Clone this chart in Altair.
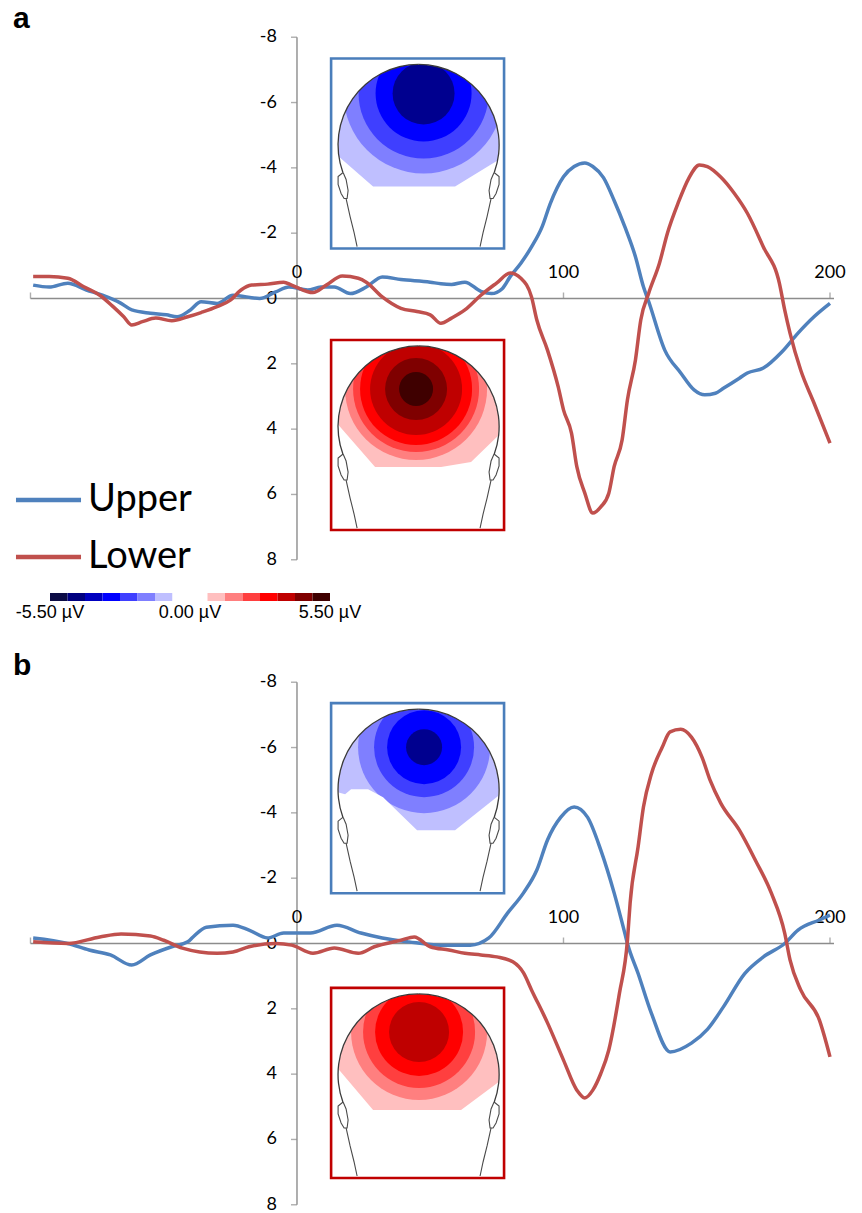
import altair as alt
import pandas as pd

# ------------------------------------------------------------------ data
SERIES = ["Upper", "Lower"]
SERIES_COLOURS = ["#4F81BD", "#C0504D"]

# panel a
A_UPPER_T = [-99, -93, -86, -79, -73, -66, -62, -55, -49, -45, -40, -36, -30, -24, -14, -8, -3, 4, 9, 14,
             20, 26, 32, 39, 50, 54, 58, 63, 69, 73, 77, 80, 84, 88, 92, 95, 100, 104, 108, 111,
             115, 119, 123, 127, 130, 132, 138, 144, 149, 153, 157, 160, 166, 169, 175, 182, 188, 194, 200]
A_UPPER_V = [-0.41, -0.35, -0.47, -0.26, -0.10, 0.15, 0.35, 0.45, 0.50, 0.56, 0.35, 0.10, 0.15, -0.10, 0.00,
             -0.20, -0.35, -0.26, -0.35, -0.35, -0.15, -0.35, -0.66, -0.58, -0.50, -0.45, -0.43, -0.50, -0.22,
             -0.15, -0.30, -0.67, -1.08, -1.58, -2.20, -2.90, -3.73, -4.04, -4.15, -4.04, -3.70, -3.00, -2.20,
             -1.28, -0.36, 0.10, 1.58, 2.28, 2.80, 2.95, 2.90, 2.75, 2.44, 2.28, 2.13, 1.63, 1.06, 0.56, 0.15]
A_LOWER_T = [-99, -93, -86, -80, -74, -69, -65, -62, -58, -53, -47, -41, -36, -30, -25, -21, -17, -11, -5, -2,
             6, 11, 17, 23, 26, 32, 39, 45, 50, 54, 58, 63, 69, 75, 80, 84, 88, 90, 94, 98,
             100, 103, 105, 108, 111, 114, 117, 119, 122, 124, 127, 129, 132, 136, 139, 143, 147, 151, 154, 159,
             164, 169, 175, 181, 183, 185, 189, 194, 200]
A_LOWER_V = [-0.67, -0.67, -0.62, -0.36, -0.10, 0.25, 0.56, 0.81, 0.71, 0.60, 0.68, 0.56, 0.43, 0.25, 0.05,
             -0.26, -0.41, -0.44, -0.50, -0.41, -0.18, -0.41, -0.69, -0.62, -0.50, -0.05, 0.30, 0.40, 0.50,
             0.76, 0.60, 0.35, -0.10, -0.48, -0.78, -0.62, -0.05, 0.66, 1.58, 2.70, 3.41, 4.12, 5.15, 5.96,
             6.57, 6.38, 5.96, 5.15, 4.33, 3.10, 1.88, 0.66, -0.17, -1.08, -2.00, -2.92, -3.68, -4.09, -4.04,
             -3.72, -3.23, -2.61, -1.58, -0.47, 0.35, 1.06, 2.19, 3.20, 4.43]

# panel b
B_UPPER_T = [-99, -86, -78, -70, -62, -55, -47, -41, -39, -34, -24, -18, -11, -5, 5, 15, 24, 32, 42, 54,
             65, 72, 79, 85, 90, 94, 99, 104, 109, 114, 119, 123, 124, 128, 133, 140, 148, 154, 160, 168,
             175, 183, 188, 196, 200]
B_UPPER_V = [-0.17, 0.00, 0.20, 0.35, 0.66, 0.35, 0.10, -0.05, -0.20, -0.50, -0.56, -0.41, -0.17, -0.32, -0.32,
             -0.56, -0.32, -0.17, -0.05, 0.05, 0.05, -0.17, -0.93, -1.55, -2.25, -3.17, -3.87, -4.18, -3.87,
             -2.86, -1.55, -0.32, 0.00, 0.92, 2.14, 3.32, 3.05, 2.63, 1.94, 0.92, 0.41, 0.00, -0.41, -0.72, -0.87]
B_LOWER_T = [-99, -86, -74, -66, -55, -50, -43, -30, -24, -18, -8, -2, 6, 14, 23, 29, 39, 44, 50, 57,
             63, 69, 75, 81, 85, 88, 94, 100, 105, 108, 111, 114, 117, 121, 124, 125, 128, 130, 133, 137,
             140, 144, 148, 152, 155, 159, 166, 172, 178, 183, 185, 189, 196, 200]
B_LOWER_V = [-0.05, 0.00, -0.20, -0.29, -0.23, -0.10, 0.14, 0.30, 0.26, 0.10, 0.00, 0.05, 0.30, 0.14, 0.30,
             0.10, -0.10, -0.20, 0.10, 0.20, 0.30, 0.35, 0.41, 0.56, 0.90, 1.42, 2.43, 3.57, 4.49, 4.73, 4.49,
             3.98, 3.26, 1.52, -0.10, -1.24, -2.96, -4.18, -5.20, -6.00, -6.48, -6.56, -6.32, -5.70, -5.00,
             -4.30, -3.47, -2.55, -1.54, -0.32, 0.50, 1.42, 2.34, 3.47]

Y_TICKS = [-8, -6, -4, -2, 0, 2, 4, 6, 8]
X_TICKS = [-100, 0, 100, 200]
X_LABELS = [0, 100, 200]

# topography colour scale (16 steps, -5.5 .. 5.5 µV)
CBAR_COLOURS = ["#0B0B45", "#00007F", "#0000BF", "#0000FF", "#3F3FFF", "#7F7FFF", "#BFBFFF", "#FFFFFF",
                "#FFFFFF", "#FFBFBF", "#FF7F7F", "#FF3F3F", "#FF0000", "#BF0000", "#7F0000", "#3F0000"]
CBAR_LIMITS = [-5.5, 5.5]
CBAR_LABEL_VALUES = [-5.5, 0.0, 5.5]

# ------------------------------------------------------------------ layout
W = 862
X_DOMAIN = [-111.44, 212.01]
PX_PER_UV = 32.66
H_A, ZERO_A = 593, 298.5
H_BAR = 8
H_B, ZERO_B = 612, 342.5


def ydom(h, z):
    return [-z / PX_PER_UV, (h - z) / PX_PER_UV]


# inset (scalp map) drawing, local coordinates in a 173 x 190 box
BOX_W, BOX_H = 173.0, 190.0
HEAD_C = (87.5, 86.5)
HEAD_R = 80.5
MASK_R = 135
EAR = [(12, 114), (7, 118), (7, 126), (10, 135), (13, 140), (16, 140), (17, 132), (15, 121), (12, 114)]
NECK = [(15, 140), (19, 158), (23, 174), (26, 188)]

INSETS = {
    "a": [
        dict(name="a_up", box=[12.8, 77.7, -7.35, -1.53], border="#4A7EBB", base="#BFBFFF",
             centre=(92.5, 35), radii=[80, 65, 48, 31],
             colours=["#7F7FFF", "#3F3FFF", "#0000FF", "#00008F"],
             cut=[(3, 94), (42, 128), (124, 128), (173, 98)]),
        dict(name="a_lo", box=[12.8, 77.7, 1.27, 7.09], border="#C00000", base="#FFBFBF",
             centre=(85, 49), radii=[71, 63, 56, 46, 31, 17],
             colours=["#FF7F7F", "#FF3F3F", "#FF0000", "#BF0000", "#7F0000", "#3F0000"],
             cut=[(3, 80), (44, 127), (110, 127), (140, 122), (173, 90)]),
    ],
    "b": [
        dict(name="b_up", box=[12.8, 77.7, -7.36, -1.54], border="#4A7EBB", base="#BFBFFF",
             centre=(93, 44), radii=[66, 50, 37, 18],
             colours=["#7F7FFF", "#3F3FFF", "#0000FF", "#00008F"],
             cut=[(3, 88), (14, 91), (20, 86), (37, 86), (52, 94), (86, 127), (124, 127), (173, 88)]),
        dict(name="b_lo", box=[12.8, 77.7, 1.36, 7.18], border="#C00000", base="#FFBFBF",
             centre=(88, 44), radii=[68, 56, 44, 30],
             colours=["#FF7F7F", "#FF3F3F", "#FF0000", "#BF0000"],
             cut=[(3, 76), (42, 122), (130, 122), (173, 90)]),
    ],
}

FONT = "Lato"
AXIS_GREY = "#8C8C8C"


def inset_frames(insets):
    discs, heads, cuts, strokes, borders = [], [], [], [], []
    for ins in insets:
        x0, x1, y0, y1 = ins["box"]

        def P(u, v):
            return x0 + u / BOX_W * (x1 - x0), y0 + v / BOX_H * (y1 - y0)

        hx, hy = P(*HEAD_C)
        heads.append(dict(x=hx, y=hy))
        discs.append(dict(k=len(discs), x=hx, y=hy, r=HEAD_R, fill=ins["base"]))
        cx, cy = P(*ins["centre"])
        for r, c in zip(ins["radii"], ins["colours"]):
            discs.append(dict(k=len(discs), x=cx, y=cy, r=r, fill=c))
        bottom = P(0, BOX_H - 1.5)[1]
        for u, v in ins["cut"]:
            x, y = P(u, v)
            cuts.append(dict(name=ins["name"], x=x, y=y, y2=bottom))
        for side in ("L", "R"):
            for pname, pts in (("ear", EAR), ("neck", NECK)):
                for i, (u, v) in enumerate(pts):
                    uu = u if side == "L" else 2 * HEAD_C[0] - u
                    x, y = P(uu, v)
                    strokes.append(dict(part=f"{ins['name']}_{pname}_{side}", i=i, x=x, y=y))
        borders.append(dict(x=x0, x2=x1, y=y0, y2=y1, stroke=ins["border"]))
    return (pd.DataFrame(discs), pd.DataFrame(heads), pd.DataFrame(cuts),
            pd.DataFrame(strokes), pd.DataFrame(borders))


def curves_frame(ut, uv, lt, lv):
    return pd.concat([
        pd.DataFrame({"series": "Upper", "t": ut, "v": uv}),
        pd.DataFrame({"series": "Lower", "t": lt, "v": lv}),
    ])


def panel(letter, curves, insets, height, zero_px, letter_y):
    xs = alt.Scale(domain=X_DOMAIN, nice=False, zero=False)
    ys = alt.Scale(domain=ydom(height, zero_px), nice=False, zero=False, reverse=True)
    X = lambda f: alt.X(f, type="quantitative", scale=xs, axis=None)
    Y = lambda f: alt.Y(f, type="quantitative", scale=ys, axis=None)

    discs, heads, cuts, strokes, borders = inset_frames(insets)

    layers = []
    layers.append(alt.Chart(discs).mark_arc(theta=0, theta2=6.2832, strokeWidth=0).encode(
        x=X("x"), y=Y("y"), radius=alt.Radius("r:Q", scale=None, stack=None),
        fill=alt.Fill("fill:N", scale=None)))
    layers.append(alt.Chart(heads).mark_arc(theta=0, theta2=6.2832, radius=MASK_R, radius2=HEAD_R,
                                            fill="white", strokeWidth=0).encode(x=X("x"), y=Y("y")))
    layers.append(alt.Chart(cuts).mark_area(fill="white", strokeWidth=0).encode(
        x=X("x"), y=alt.Y("y:Q", scale=ys, axis=None, stack=None), y2="y2:Q",
        detail="name:N"))
    layers.append(alt.Chart(heads).mark_arc(theta=4.363, theta2=6.2832, radius=HEAD_R + 0.7,
                                            radius2=HEAD_R - 0.6, fill="#3A3A3A").encode(x=X("x"), y=Y("y")))
    layers.append(alt.Chart(heads).mark_arc(theta=0, theta2=1.92, radius=HEAD_R + 0.7,
                                            radius2=HEAD_R - 0.6, fill="#3A3A3A").encode(x=X("x"), y=Y("y")))
    layers.append(alt.Chart(strokes).mark_line(color="#4A4A4A", strokeWidth=1.1).encode(
        x=X("x"), y=Y("y"), detail="part:N", order="i:Q"))
    layers.append(alt.Chart(borders).mark_rect(fillOpacity=0, strokeWidth=2.6).encode(
        x=X("x"), x2="x2:Q", y=Y("y"), y2="y2:Q", stroke=alt.Stroke("stroke:N", scale=None)))

    # axes
    xaxis = pd.DataFrame({"x": [min(X_TICKS)], "x2": [max(X_TICKS)], "y": [0]})
    layers.append(alt.Chart(xaxis).mark_rule(color=AXIS_GREY, strokeWidth=1.4, x2Offset=4).encode(
        x=X("x"), x2="x2:Q", y=Y("y")))
    yaxis = pd.DataFrame({"x": [0], "y": [min(Y_TICKS)], "y2": [max(Y_TICKS)]})
    layers.append(alt.Chart(yaxis).mark_rule(color=AXIS_GREY, strokeWidth=1.4).encode(
        x=X("x"), y=Y("y"), y2="y2:Q"))
    xt = pd.DataFrame({"x": X_TICKS, "y": 0})
    layers.append(alt.Chart(xt).mark_tick(orient="vertical", size=6, thickness=1.4, yOffset=-3,
                                          color=AXIS_GREY).encode(x=X("x"), y=Y("y")))
    yt = pd.DataFrame({"x": 0, "y": Y_TICKS, "label": [str(v) for v in Y_TICKS]})
    layers.append(alt.Chart(yt).mark_tick(orient="horizontal", size=6, thickness=1.4, xOffset=-3,
                                          color=AXIS_GREY).encode(x=X("x"), y=Y("y")))
    layers.append(alt.Chart(yt).mark_text(align="right", baseline="middle", dx=-20, font=FONT,
                                          fontSize=18, color="black").encode(
        x=X("x"), y=Y("y"), text="label:N"))
    xl = pd.DataFrame({"x": X_LABELS, "y": 0, "label": [str(v) for v in X_LABELS]})
    layers.append(alt.Chart(xl).mark_text(align="center", baseline="alphabetic", dy=-21, font=FONT,
                                          fontSize=18, color="black").encode(
        x=X("x"), y=Y("y"), text="label:N"))

    # curves
    legend = alt.Legend(title=None, orient="none", legendX=29.5, legendY=481,
                        symbolType="M-3,0L3,0", symbolSize=470, symbolStrokeWidth=4.5,
                        labelFont=FONT, labelFontSize=38, labelColor="black",
                        labelOffset=20.5, rowPadding=19, padding=0)
    layers.append(alt.Chart(curves).mark_line(strokeWidth=3.5, interpolate="monotone").encode(
        x=X("t"), y=Y("v"),
        color=alt.Color("series:N", scale=alt.Scale(domain=SERIES, range=SERIES_COLOURS),
                        legend=legend, sort=SERIES),
        detail="series:N"))

    # panel letter
    layers.append(alt.Chart(pd.DataFrame({"t": [letter]})).mark_text(
        align="left", baseline="alphabetic", font="Liberation Sans", fontWeight="bold",
        fontSize=30, color="black").encode(x=alt.value(13), y=alt.value(letter_y), text="t:N"))

    return alt.layer(*layers).properties(width=W, height=height)


panel_a = panel("a", curves_frame(A_UPPER_T, A_UPPER_V, A_LOWER_T, A_LOWER_V), INSETS["a"], H_A, ZERO_A, 28)
panel_b = panel("b", curves_frame(B_UPPER_T, B_UPPER_V, B_LOWER_T, B_LOWER_V), INSETS["b"], H_B, ZERO_B, 74)

# colour bar
n = len(CBAR_COLOURS)
step = (CBAR_LIMITS[1] - CBAR_LIMITS[0]) / n
cbar = pd.DataFrame({"lo": [CBAR_LIMITS[0] + i * step for i in range(n)],
                     "hi": [CBAR_LIMITS[0] + (i + 1) * step for i in range(n)],
                     "fill": CBAR_COLOURS})
cbar_scale = alt.Scale(domain=CBAR_LIMITS, range=[50, 330], nice=False, zero=False)
cbar_labels = pd.DataFrame({"v": CBAR_LABEL_VALUES,
                            "label": [f"{v:.2f} µV" for v in CBAR_LABEL_VALUES]})
cbar_chart = alt.layer(
    alt.Chart(cbar).mark_rect(strokeWidth=0).encode(
        x=alt.X("lo:Q", scale=cbar_scale, axis=None), x2="hi:Q",
        fill=alt.Fill("fill:N", scale=None)),
    alt.Chart(cbar_labels).mark_text(align="center", baseline="alphabetic", font="Liberation Sans",
                                     fontSize=18, color="black").encode(
        x=alt.X("v:Q", scale=cbar_scale, axis=None), y=alt.value(25), text="label:N"),
).properties(width=W, height=H_BAR)

chart = alt.vconcat(panel_a, cbar_chart, panel_b, spacing=0, bounds="flush").resolve_scale(
    x="independent", y="independent", color="shared"
).properties(
    padding=0, background="white"
).configure_view(stroke=None)

chart.save("out.html", embed_options={"renderer": "svg", "actions": False})
